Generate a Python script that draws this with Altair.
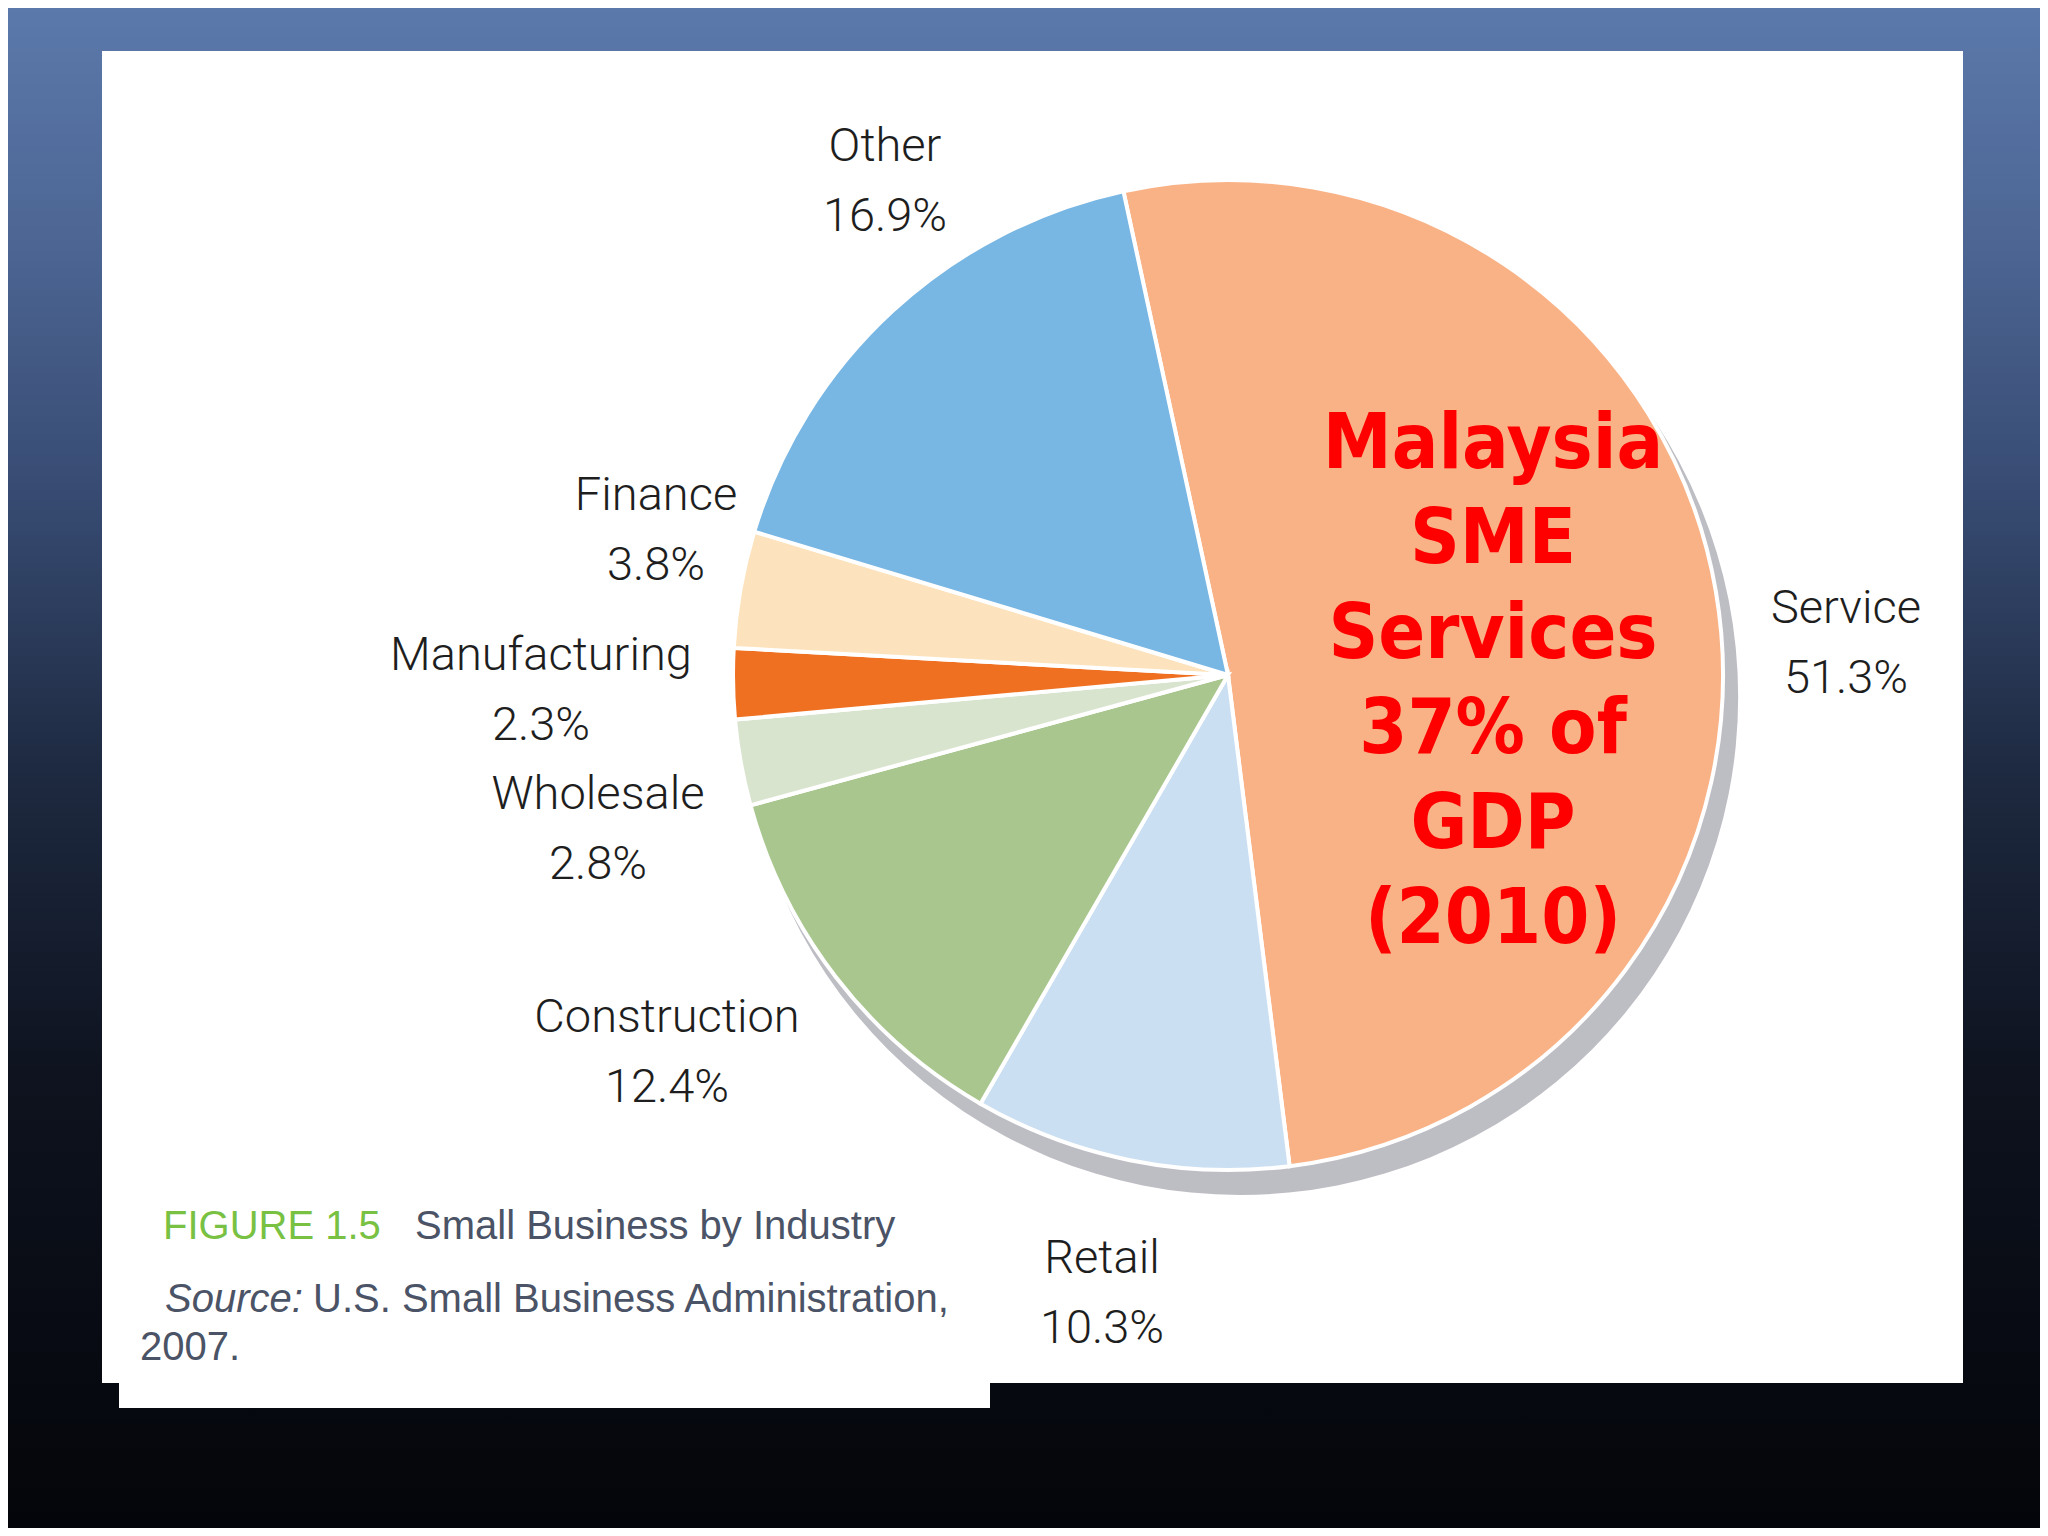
import math
import altair as alt
import pandas as pd

# ---------------- data ----------------
categories = ["Service", "Retail", "Construction", "Wholesale", "Manufacturing", "Finance", "Other"]
shares = [51.3, 10.3, 12.4, 2.8, 2.3, 3.8, 16.9]
slice_colors = ["#F9B286", "#CBDFF2", "#A8C68D", "#D9E4CF", "#F07022", "#FDE3BD", "#78B6E3"]

# label anchor positions (annotation layout, pixels in chart space)
label_x = [1838, 1094, 659, 590, 533, 648, 877]
label_y = [615, 1265, 1024, 801, 662, 502, 153]

red_lines = ["Malaysia", "SME", "Services", "37% of", "GDP", "(2010)"]
caption_fig = "FIGURE 1.5"
caption_title = "Small Business by Industry"
source_lead = "Source:"
source_rest = "U.S. Small Business Administration,"
source_year = "2007."

W, H = 2032, 1520
CX, CY, R = 1220, 667, 495
start = math.radians(-12.2) + 2 * math.pi

df = pd.DataFrame({
    "cat": categories,
    "share": shares,
    "idx": list(range(len(categories))),
    "label": [f"{c}\n{v}%" for c, v in zip(categories, shares)],
    "lx": label_x,
    "ly": label_y,
})
one = pd.DataFrame({"a": [0]})

# ---------------- background ----------------
bg = alt.Chart(one).mark_rect(
    fill=alt.LinearGradient(
        gradient="linear",
        stops=[
            alt.GradientStop(offset=0.0, color="#5b79ab"),
            alt.GradientStop(offset=0.15, color="#4d6694"),
            alt.GradientStop(offset=0.32, color="#374b72"),
            alt.GradientStop(offset=0.5, color="#1e2a41"),
            alt.GradientStop(offset=0.7, color="#0e131f"),
            alt.GradientStop(offset=1.0, color="#04050a"),
        ],
        x1=0, x2=0, y1=0, y2=1,
    )
).encode(x=alt.value(0), x2=alt.value(W), y=alt.value(0), y2=alt.value(H))

panel = alt.Chart(one).mark_rect(fill="white").encode(
    x=alt.value(94), x2=alt.value(1955), y=alt.value(43), y2=alt.value(1375)
)
panel2 = alt.Chart(one).mark_rect(fill="white").encode(
    x=alt.value(111), x2=alt.value(982), y=alt.value(1370), y2=alt.value(1400)
)

# ---------------- pie ----------------
shadow = alt.Chart(one).mark_arc(
    theta=0, theta2=2 * math.pi, radius=R + 3, fill="#BDBDC4"
).encode(x=alt.value(CX + 12), y=alt.value(CY + 22))

pie = alt.Chart(df).mark_arc(radius=R, stroke="white", strokeWidth=4).encode(
    theta=alt.Theta("share:Q", stack=True,
                    scale=alt.Scale(range=[start, start + 2 * math.pi])),
    color=alt.Color("cat:N", scale=alt.Scale(domain=categories, range=slice_colors), legend=None),
    order=alt.Order("idx:Q"),
    x=alt.value(CX),
    y=alt.value(CY),
)

labels = alt.Chart(df).mark_text(
    font="Roboto", fontSize=47, fontWeight=300, color="#1e1e1e",
    lineBreak="\n", lineHeight=70, align="center", baseline="alphabetic",
).encode(
    x=alt.X("lx:Q", scale=None, axis=None),
    y=alt.Y("ly:Q", scale=None, axis=None),
    text="label:N",
)

red = alt.Chart(one).mark_text(
    text="\n".join(red_lines), lineBreak="\n", lineHeight=95,
    font="DejaVu Sans Condensed, DejaVu Sans", fontWeight="bold", fontSize=77, color="#FF0000",
    align="center", baseline="alphabetic",
).encode(x=alt.value(1485), y=alt.value(460))

cap_font = "Liberation Sans"
cap_color = "#4B5366"
cap_size = 40
cap1 = alt.Chart(one).mark_text(text=caption_fig, font=cap_font, fontSize=cap_size, color="#79C143",
                                align="left", baseline="alphabetic").encode(x=alt.value(155), y=alt.value(1231))
cap2 = alt.Chart(one).mark_text(text=caption_title, font=cap_font, fontSize=cap_size, color=cap_color,
                                align="left", baseline="alphabetic").encode(x=alt.value(407), y=alt.value(1231))
src1 = alt.Chart(one).mark_text(text=source_lead, font=cap_font, fontSize=cap_size, fontStyle="italic", color=cap_color,
                                align="left", baseline="alphabetic").encode(x=alt.value(157), y=alt.value(1304))
src2 = alt.Chart(one).mark_text(text=source_rest, font=cap_font, fontSize=cap_size, color=cap_color,
                                align="left", baseline="alphabetic").encode(x=alt.value(305), y=alt.value(1304))
src3 = alt.Chart(one).mark_text(text=source_year, font=cap_font, fontSize=cap_size, color=cap_color,
                                align="left", baseline="alphabetic").encode(x=alt.value(132), y=alt.value(1352))

chart = alt.layer(
    bg, panel, panel2, shadow, pie, labels, red, cap1, cap2, src1, src2, src3
).properties(
    width=W, height=H, padding=0, autosize="none"
).configure_view(stroke=None)

chart.save("out.html", embed_options={"renderer": "svg", "actions": False})
